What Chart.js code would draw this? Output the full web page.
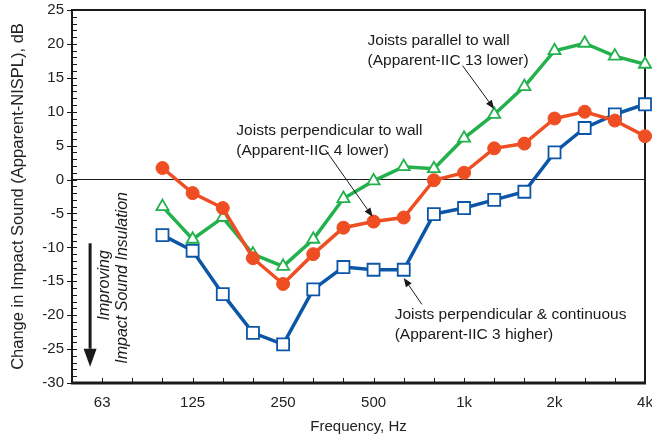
<!DOCTYPE html>
<html>
<head>
<meta charset="utf-8">
<script src="https://cdn.jsdelivr.net/npm/chart.js@4/dist/chart.umd.min.js"></script>
<style>
  html, body { margin: 0; padding: 0; background: #fff; }
  #wrap { width: 652px; height: 438px; }
</style>
</head>
<body>
<div id="wrap"><canvas id="chart" width="652" height="438"></canvas></div>
<script>
// Data
const axisBands = ['50','63','80','100','125','160','200','250','315','400','500','630','800','1000','1250','1600','2000','2500','3150','4000'];
const bands = ['100','125','160','200','250','315','400','500','630','800','1000','1250','1600','2000','2500','3150','4000'];
const octaveBands = ['63','125','250','500','1000','2000','4000'];
const octaveLabels = ['63','125','250','500','1k','2k','4k'];

const perpendicular = [1.7, -2.0, -4.2, -11.6, -15.4, -11.0, -7.1, -6.2, -5.6, -0.1, 1.0, 4.6, 5.3, 9.0, 10.0, 8.7, 6.4];
const parallel = [-4.0, -8.8, -5.6, -11.0, -12.8, -8.8, -2.8, -0.2, 1.9, 1.6, 6.1, 9.6, 13.7, 19.0, 20.1, 18.2, 17.0];
const continuous = [-8.2, -10.5, -16.9, -22.6, -24.3, -16.2, -12.9, -13.3, -13.3, -5.1, -4.2, -3.0, -1.8, 4.0, 7.6, 9.6, 11.1];

const yMin = -30, yMax = 25;

const GREEN = '#22b14c';
const RED = '#ef4e23';
const BLUE = '#0c56a8';
const INK = '#1a1a1a';
const FONT = "'Liberation Sans', Arial, sans-serif";

Chart.defaults.font.family = FONT;
Chart.defaults.color = '#222';

const toPoints = vals => vals.map((v, i) => ({ x: bands[i], y: v }));

// Annotations in axis units (x = band index, y = dB)
const notes = [
  { lines: ['Joists parallel to wall', '(Apparent-IIC 13 lower)'], x: 9.8, y: 20.4, from: [12.95, 16.8], to: [14.0, 10.4] },
  { lines: ['Joists perpendicular to wall', '(Apparent-IIC 4 lower)'], x: 5.45, y: 7.2, from: [8.4, 4.4], to: [9.97, -5.5] },
  { lines: ['Joists perpendicular & continuous', '(Apparent-IIC 3 higher)'], x: 10.7, y: -20.0, from: [11.6, -18.4], to: [11.0, -14.5] }
];

function arrow(ctx, x1, y1, x2, y2, lw, headLen, headW) {
  const ang = Math.atan2(y2 - y1, x2 - x1);
  const bx = x2 - headLen * Math.cos(ang), by = y2 - headLen * Math.sin(ang);
  ctx.lineWidth = lw;
  ctx.beginPath();
  ctx.moveTo(x1, y1);
  ctx.lineTo(bx, by);
  ctx.stroke();
  ctx.beginPath();
  ctx.moveTo(x2, y2);
  ctx.lineTo(bx + headW / 2 * Math.sin(ang), by - headW / 2 * Math.cos(ang));
  ctx.lineTo(bx - headW / 2 * Math.sin(ang), by + headW / 2 * Math.cos(ang));
  ctx.closePath();
  ctx.fill();
}

// keep tick label overflow from pushing the plot area in
function noPad(s) {
  s.paddingTop = 0; s.paddingBottom = 0; s.paddingLeft = 0; s.paddingRight = 0;
}

const framePlugin = {
  id: 'frame',
  beforeDatasetsDraw(chart) {
    const { ctx, chartArea: a, scales: { x, y } } = chart;
    ctx.save();
    ctx.strokeStyle = INK;
    ctx.lineWidth = 1;
    // y ticks: major cross the axis, minor point inward
    for (let v = yMin; v <= yMax; v++) {
      const py = Math.round(y.getPixelForValue(v)) + 0.5;
      ctx.beginPath();
      ctx.moveTo(v % 5 === 0 ? a.left - 5 : a.left, py);
      ctx.lineTo(a.left + 5, py);
      ctx.stroke();
    }
    // x ticks every third-octave band, inward
    axisBands.forEach((b, i) => {
      const px = Math.round(x.getPixelForValue(i)) + 0.5;
      ctx.beginPath();
      ctx.moveTo(px, a.bottom);
      ctx.lineTo(px, a.bottom - 5);
      ctx.stroke();
    });
    ctx.lineWidth = 2;
    ctx.strokeRect(a.left, a.top, a.right - a.left, a.bottom - a.top);
    ctx.lineWidth = 3;
    ctx.beginPath();
    ctx.moveTo(a.left - 1, a.bottom);
    ctx.lineTo(a.right + 1, a.bottom);
    ctx.stroke();
    ctx.restore();
  },
  afterDatasetsDraw(chart) {
    const { ctx, scales: { x, y } } = chart;
    ctx.save();
    ctx.fillStyle = INK;
    ctx.strokeStyle = INK;
    ctx.font = '15.5px ' + FONT;
    ctx.textBaseline = 'middle';
    ctx.textAlign = 'left';
    notes.forEach(n => {
      const tx = x.getPixelForValue(n.x), ty = y.getPixelForValue(n.y);
      n.lines.forEach((t, k) => ctx.fillText(t, tx, ty + k * 20));
      arrow(ctx, x.getPixelForValue(n.from[0]), y.getPixelForValue(n.from[1]),
        x.getPixelForValue(n.to[0]), y.getPixelForValue(n.to[1]), 1, 9, 7);
    });
    // Improving arrow and rotated caption
    arrow(ctx, x.getPixelForValue(0.6), y.getPixelForValue(-9.4),
      x.getPixelForValue(0.6), y.getPixelForValue(-27.6), 3, 18, 13);
    ctx.font = 'italic 16px ' + FONT;
    ctx.textAlign = 'center';
    [['Improving', 1.09, -15.6], ['Impact Sound Insulation', 1.66, -14.5]].forEach(([t, xi, yv]) => {
      ctx.save();
      ctx.translate(x.getPixelForValue(xi), y.getPixelForValue(yv));
      ctx.rotate(-Math.PI / 2);
      ctx.fillText(t, 0, 0);
      ctx.restore();
    });
    ctx.restore();
  }
};

new Chart(document.getElementById('chart'), {
  type: 'line',
  data: {
    datasets: [
      {
        label: 'Joists perpendicular to wall',
        data: toPoints(perpendicular),
        borderColor: RED, backgroundColor: RED, borderWidth: 3.5,
        pointStyle: 'circle', pointRadius: 6.5, pointBackgroundColor: RED, pointBorderColor: RED, pointBorderWidth: 1,
        clip: false
      },
      {
        label: 'Joists parallel to wall',
        data: toPoints(parallel),
        borderColor: GREEN, backgroundColor: '#fff', borderWidth: 3.5,
        pointStyle: 'triangle', pointRadius: 7, pointBackgroundColor: '#fff', pointBorderColor: GREEN, pointBorderWidth: 1.8,
        clip: false
      },
      {
        label: 'Joists perpendicular & continuous',
        data: toPoints(continuous),
        borderColor: BLUE, backgroundColor: '#fff', borderWidth: 3.5,
        pointStyle: 'rect', pointRadius: 8.5, pointBackgroundColor: '#fff', pointBorderColor: BLUE, pointBorderWidth: 1.8,
        clip: false
      }
    ]
  },
  options: {
    responsive: false,
    animation: false,
    layout: { autoPadding: false, padding: { top: 10, right: 7, left: 0, bottom: 0 } },
    plugins: { legend: { display: false }, tooltip: { enabled: false } },
    scales: {
      x: {
        type: 'category',
        labels: axisBands,
        offset: false,
        grid: { display: false },
        border: { display: false },
        ticks: {
          autoSkip: false, maxRotation: 0, padding: 3,
          font: { size: 15 },
          callback: (v, i) => {
            const k = octaveBands.indexOf(axisBands[i]);
            return k >= 0 ? octaveLabels[k] : '';
          }
        },
        title: { display: true, text: 'Frequency, Hz', font: { size: 15 }, padding: { top: 2, bottom: 2 } },
        afterFit: s => { s.height = 55; noPad(s); }
      },
      y: {
        min: yMin, max: yMax,
        grid: {
          drawTicks: false,
          color: c => c.tick.value === 0 ? INK : 'rgba(0,0,0,0)',
          lineWidth: 1
        },
        border: { display: false },
        ticks: { stepSize: 5, padding: 8, font: { size: 15 } },
        title: { display: true, text: 'Change in Impact Sound (Apparent-NISPL), dB', font: { size: 16.5 }, padding: { top: 8.5, bottom: 0 } },
        afterFit: s => { s.width = 72; noPad(s); }
      }
    }
  },
  plugins: [framePlugin]
});
</script>
</body>
</html>
